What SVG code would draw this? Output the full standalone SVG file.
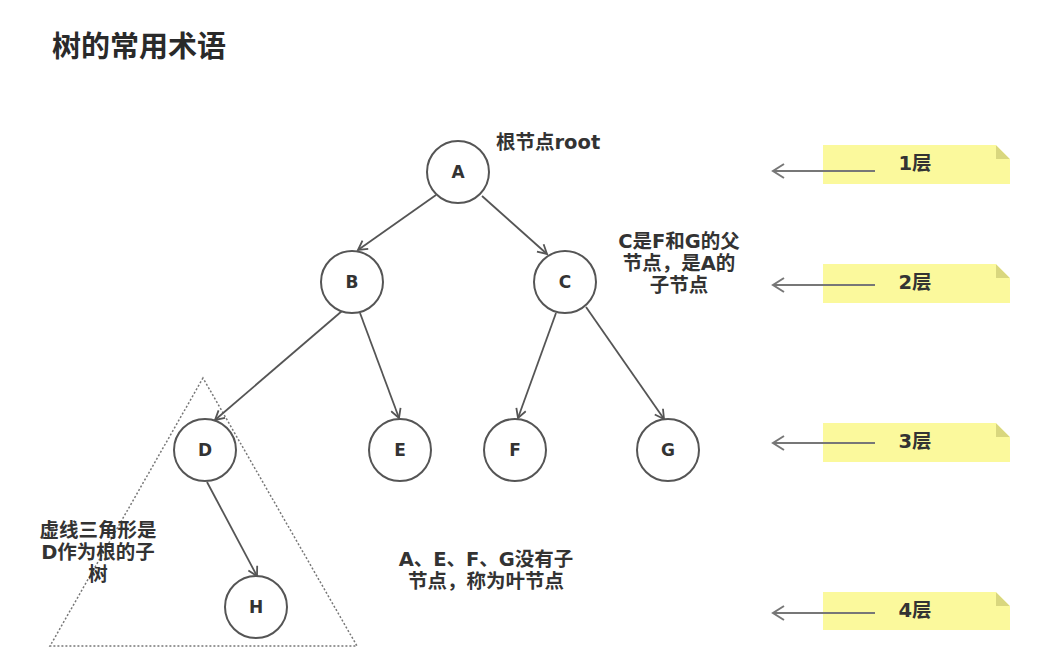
<svg xmlns="http://www.w3.org/2000/svg" width="1038" height="662" viewBox="0 0 1038 662">
<style>
.node circle{fill:#fff;stroke:#555;stroke-width:2}
.node text,.lbl{font-family:"DejaVu Sans","Noto Sans CJK SC",sans-serif;font-weight:bold;fill:#333}
.node text{font-size:17px;text-anchor:middle}
.lbl{font-size:19.5px}
.edge{stroke:#555;stroke-width:1.8;fill:none;marker-end:url(#ah)}
.note rect{fill:#fbf99c}
.note path.fold{fill:#d9d77e}
.larr{stroke:#777;stroke-width:2;fill:none;marker-end:url(#ah2)}
</style>
<defs>
<marker id="ah" markerWidth="12" markerHeight="12" refX="10" refY="6" orient="auto" markerUnits="userSpaceOnUse">
<path d="M1,1 L10,6 L1,11" fill="none" stroke="#555" stroke-width="1.8"/>
</marker>
<marker id="ah2" markerWidth="16" markerHeight="16" refX="14" refY="8" orient="auto" markerUnits="userSpaceOnUse">
<path d="M3,1 L14,8 L3,15" fill="none" stroke="#777" stroke-width="2"/>
</marker>
</defs>
<rect width="1038" height="662" fill="#fff"/>
<text x="52" y="57" font-family="'Noto Sans CJK SC',sans-serif" font-size="29" font-weight="bold" fill="#2a2a2a">树的常用术语</text>

<polygon points="203,378 50,646 357,646" fill="none" stroke="#777" stroke-width="1.5" stroke-dasharray="2,2"/>

<g id="connectors">
<line class="edge" x1="436" y1="195" x2="358" y2="250"/>
<line class="edge" x1="482" y1="196" x2="547" y2="254"/>
<line class="edge" x1="342" y1="311" x2="215" y2="420"/>
<line class="edge" x1="360" y1="313" x2="399" y2="418"/>
<line class="edge" x1="556" y1="313" x2="518" y2="418"/>
<line class="edge" x1="586" y1="307" x2="664" y2="419"/>
<line class="edge" x1="207" y1="482" x2="257" y2="576"/>
</g>

<g id="A" class="node"><circle cx="458" cy="172" r="31"/><text x="458" y="178">A</text></g>
<g id="B" class="node"><circle cx="352" cy="282" r="31"/><text x="352" y="288">B</text></g>
<g id="C" class="node"><circle cx="565" cy="282" r="31"/><text x="565" y="288">C</text></g>
<g id="D" class="node"><circle cx="205" cy="450" r="31"/><text x="205" y="456">D</text></g>
<g id="E" class="node"><circle cx="400" cy="450" r="31"/><text x="400" y="456">E</text></g>
<g id="F" class="node"><circle cx="515" cy="450" r="31"/><text x="515" y="456">F</text></g>
<g id="G" class="node"><circle cx="668" cy="450" r="31"/><text x="668" y="456">G</text></g>
<g id="H" class="node"><circle cx="256" cy="607" r="31"/><text x="256" y="613">H</text></g>

<text class="lbl" x="496" y="149">根节点root</text>
<text class="lbl" text-anchor="middle"><tspan x="679" y="248">C是F和G的父</tspan><tspan x="679" y="270">节点，是A的</tspan><tspan x="679" y="292">子节点</tspan></text>
<text class="lbl" text-anchor="middle"><tspan x="98" y="537">虚线三角形是</tspan><tspan x="98" y="559">D作为根的子</tspan><tspan x="98" y="581">树</tspan></text>
<text class="lbl" text-anchor="middle"><tspan x="486" y="566">A、E、F、G没有子</tspan><tspan x="486" y="588">节点，称为叶节点</tspan></text>

<g id="layer1" class="note"><rect x="823" y="145" width="187" height="39"/><path class="fold" d="M996,145 L1010,159 L996,159 Z"/><path d="M996,145 L1010,159 L1010,145 Z" fill="#fff"/><text class="lbl" x="915" y="170" text-anchor="middle">1层</text><line class="larr" x1="875" y1="171" x2="773" y2="171"/></g>
<g id="layer2" class="note"><rect x="823" y="264" width="187" height="39"/><path class="fold" d="M996,264 L1010,278 L996,278 Z"/><path d="M996,264 L1010,278 L1010,264 Z" fill="#fff"/><text class="lbl" x="915" y="289" text-anchor="middle">2层</text><line class="larr" x1="875" y1="285" x2="773" y2="285"/></g>
<g id="layer3" class="note"><rect x="823" y="423" width="187" height="39"/><path class="fold" d="M996,423 L1010,437 L996,437 Z"/><path d="M996,423 L1010,437 L1010,423 Z" fill="#fff"/><text class="lbl" x="915" y="448" text-anchor="middle">3层</text><line class="larr" x1="875" y1="443" x2="773" y2="443"/></g>
<g id="layer4" class="note"><rect x="823" y="592" width="187" height="38"/><path class="fold" d="M996,592 L1010,606 L996,606 Z"/><path d="M996,592 L1010,606 L1010,592 Z" fill="#fff"/><text class="lbl" x="915" y="617" text-anchor="middle">4层</text><line class="larr" x1="875" y1="613" x2="773" y2="613"/></g>
</svg>
